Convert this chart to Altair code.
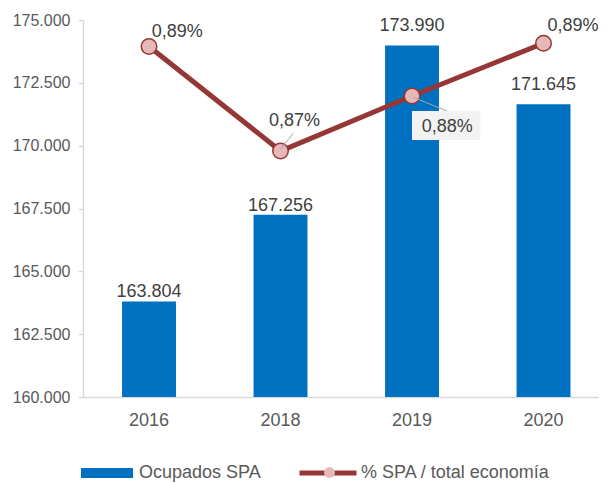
import altair as alt
import pandas as pd

years = ["2016", "2018", "2019", "2020"]
ocupados = [163804, 167256, 173990, 171645]
pct = [0.8890, 0.8700, 0.8800, 0.8896]
y_ticks = [160000, 162500, 165000, 167500, 170000, 172500, 175000]
bar_name = "Ocupados SPA"
line_name = "% SPA / total economía"

df = pd.DataFrame({
    "year": years,
    "ocupados": ocupados,
    "pct": pct,
    "bar_label": [f"{v:,}".replace(",", ".") for v in ocupados],
    "pct_label": [f"{v:.2f}".replace(".", ",") + "%" for v in pct],
    "bar_serie": bar_name,
    "line_serie": line_name,
    "marker": "o",
})

FONT = "Liberation Sans"
BLUE = "#0070C0"
RED = "#953735"
PINK = "#E6B9B8"
TXT = "#404040"
AX = "#595959"

base = alt.Chart(df)

x_enc = alt.X(
    "year:N", sort=years,
    scale=alt.Scale(paddingInner=0.59, paddingOuter=0.257, align=0.578, round=False),
    axis=alt.Axis(title=None, labelAngle=0, ticks=False, tickSize=0, labelPadding=14,
                  labelFontSize=18, labelColor=AX, labelFont=FONT,
                  domainColor="#d9d9d9", domainWidth=1.5, grid=False),
)
y_bar = alt.Y(
    "ocupados:Q",
    scale=alt.Scale(domain=[160000, 175000], zero=False, nice=False),
    axis=alt.Axis(title=None, values=y_ticks, grid=False,
                  labelExpr="replace(format(datum.value, ','), ',', '.')",
                  labelFontSize=16, labelColor=AX, labelFont=FONT, labelPadding=8,
                  tickSize=5, tickColor="#d9d9d9", tickWidth=1.5,
                  domainColor="#d9d9d9", domainWidth=1.5),
)
y_pct = alt.Y("pct:Q", scale=alt.Scale(domain=[0.82527, 0.89382], zero=False, nice=False), axis=None)

LEG_SHIFT = -3

bars = base.mark_bar(clip=True).encode(
    x=x_enc, y=y_bar,
    fill=alt.Fill("bar_serie:N", scale=alt.Scale(domain=[bar_name], range=[BLUE]),
                  legend=alt.Legend(title=None, orient="none", legendX=-2, legendY=430 + LEG_SHIFT,
                                    direction="horizontal",
                                    symbolType="M-1,-0.1923H1V0.1923H-1Z", symbolSize=2704,
                                    symbolStrokeWidth=0, labelFontSize=18, labelFont=FONT,
                                    labelColor=AX, labelOffset=6, labelLimit=300, padding=0)),
)

def bar_text(sel, dy):
    return base.transform_filter(alt.FieldOneOfPredicate(field="year", oneOf=sel)).mark_text(
        baseline="alphabetic", align="center", fontSize=18, font=FONT, color=TXT, dy=dy
    ).encode(x=alt.X("year:N", sort=years), y="ocupados:Q", text="bar_label:N")

bar_group = alt.layer(bars, bar_text(["2016", "2018"], -4), bar_text(["2019", "2020"], -14))

line = base.mark_line(strokeWidth=5).encode(
    x=alt.X("year:N", sort=years), y=y_pct,
    stroke=alt.Stroke("line_serie:N", scale=alt.Scale(domain=[line_name], range=[RED]),
                      legend=alt.Legend(title=None, orient="none", legendX=214, legendY=425 + LEG_SHIFT,
                                        direction="horizontal",
                                        symbolType="M-1,0H1", symbolSize=3249,
                                        symbolStrokeWidth=5, labelFontSize=18, labelFont=FONT,
                                        labelColor=AX, labelOffset=2, labelLimit=300, padding=0)),
)

points = base.mark_point(filled=True, fill=PINK, stroke=RED, strokeWidth=1.5, size=240, opacity=1).encode(
    x=alt.X("year:N", sort=years), y="pct:Q",
    shape=alt.Shape("marker:N", scale=alt.Scale(domain=["o"], range=["circle"]),
                    legend=alt.Legend(title=None, orient="none", legendX=240, legendY=449 + LEG_SHIFT,
                                      symbolSize=120, symbolFillColor=PINK, symbolStrokeColor=RED,
                                      symbolStrokeWidth=1.5, labelExpr="''", labelFontSize=1,
                                      padding=0)),
)

def one(year):
    return base.transform_filter(alt.datum.year == year)

leader18 = one("2018").mark_point(shape="M0,-2L12.7,-17.7", size=4, filled=False,
                                  stroke="#a6a6a6", strokeWidth=1, opacity=1).encode(
    x=alt.X("year:N", sort=years), y="pct:Q")
leader19 = one("2019").mark_point(shape="M1.3,1.3L35,15", size=4, filled=False,
                                  stroke="#a6a6a6", strokeWidth=1, opacity=1).encode(
    x=alt.X("year:N", sort=years), y="pct:Q")
box19 = one("2019").mark_point(shape="M0,15H68.3V44H0Z", size=4, filled=True,
                               fill="#F2F2F2", strokeWidth=0, opacity=1).encode(
    x=alt.X("year:N", sort=years), y="pct:Q")

def pct_text(year, align, dx, dy):
    return one(year).mark_text(baseline="alphabetic", align=align, dx=dx, dy=dy,
                               fontSize=18, font=FONT, color=TXT).encode(
        x=alt.X("year:N", sort=years), y="pct:Q", text="pct_label:N")

line_group = alt.layer(
    line, points, leader18, leader19, box19,
    pct_text("2016", "left", 2.7, -9.7),
    pct_text("2018", "center", 14, -25.3),
    pct_text("2019", "center", 35.3, 36),
    pct_text("2020", "left", 4, -12),
)

chart = alt.layer(bar_group, line_group).resolve_scale(y="independent").properties(
    width=516, height=377,
    autosize=alt.AutoSizeParams(type="none"),
    padding={"left": 75, "top": 12, "right": 0, "bottom": 86},
).configure_view(stroke=None)

chart.save("out.html", embed_options={"renderer": "svg", "actions": False})
